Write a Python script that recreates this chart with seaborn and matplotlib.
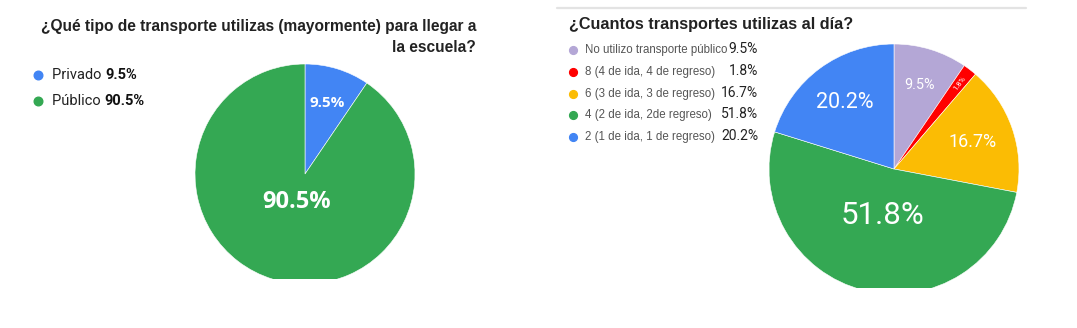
import matplotlib
matplotlib.use("Agg")
import matplotlib.pyplot as plt
import seaborn as sns
import numpy as np

sns.set_theme(style="white")
plt.rcParams['font.family'] = ['Liberation Sans', 'DejaVu Sans']

# ---------------- data ----------------
left_title = "¿Qué tipo de transporte utilizas (mayormente) para llegar a\nla escuela?"
left_categories = ["Privado", "Público"]
left_values = [9.5, 90.5]
left_colors = ["#4285F4", "#34A853"]

right_title = "¿Cuantos transportes utilizas al día?"
right_categories = ["No utilizo transporte público",
                    "8 (4 de ida, 4 de regreso)",
                    "6 (3 de ida, 3 de regreso)",
                    "4 (2 de ida, 2de regreso)",
                    "2 (1 de ida, 1 de regreso)"]
right_values = [9.5, 1.8, 16.7, 51.8, 20.2]
right_colors = ["#B4A7D6", "#FF0000", "#FBBC04", "#34A853", "#4285F4"]

W, H = 1077, 328
fig = plt.figure(figsize=(W / 100, H / 100), dpi=100)
fig.patch.set_facecolor("white")


def fx(x):
    return x / W


def fy(y):
    return 1 - y / H


def pie_axes(cx, cy, r, bottom_cut):
    left = cx - r
    ax = fig.add_axes([fx(left), fy(bottom_cut), 2 * r / W, (bottom_cut - (cy - r)) / H])
    return ax


def fmt(v):
    return f"{v:.1f}%"


def dot(x, y, color, size):
    fig.add_artist(plt.Line2D([fx(x)], [fy(y)], transform=fig.transFigure, marker="o",
                              markersize=size, markerfacecolor=color, markeredgecolor=color,
                              linestyle="none"))


# ---------------- left pie ----------------
axL = pie_axes(305, 174, 110, 279)
wedges, _ = axL.pie(left_values, colors=left_colors, startangle=90, counterclock=False,
                    radius=1, wedgeprops=dict(edgecolor="white", linewidth=0.4))
axL.set_aspect("auto")
axL.set_xlim(-1, 1)
axL.set_ylim(-(279 - 174) / 110, 1)
axL.axis("off")
for w in wedges:
    w.set_clip_on(True)
    w.set_clip_path(axL.patch)
left_dist = [0.68, 0.27]
left_sizes = [11, 17]
for w, v, d, s in zip(wedges, left_values, left_dist, left_sizes):
    mid = np.deg2rad((w.theta1 + w.theta2) / 2)
    axL.text(d * np.cos(mid), d * np.sin(mid), fmt(v), color="white", fontsize=s,
             fontweight="bold", family=["Open Sans", "DejaVu Sans"], ha="center", va="center")

fig.text(fx(476), fy(36.5), left_title, ha="right", va="center", fontsize=11.2,
         fontweight="bold", color="#222222", linespacing=1.5)

# left legend
for i, (cat, v, c) in enumerate(zip(left_categories, left_values, left_colors)):
    y = 75 + i * 26
    dot(38, y, c, 6.2)
    t = fig.text(fx(52), fy(y), cat + " ", ha="left", va="center", fontsize=10.5,
                 family=["Roboto", "DejaVu Sans"], color="#222222")
    fig.add_artist(matplotlib.text.Annotation(
        fmt(v), xy=(1, 0.5), xycoords=t, ha="left", va="center", fontsize=10.5,
        fontweight="bold", family=["Roboto", "DejaVu Sans"], color="#111111",
        annotation_clip=False))

# ---------------- right panel ----------------
fig.add_artist(plt.Line2D([fx(557), fx(1026)], [fy(8), fy(8)], transform=fig.transFigure,
                          color="#e3e3e3", linewidth=1.6))

fig.text(fx(569), fy(24), right_title, ha="left", va="center", fontsize=11.7,
         fontweight="bold", color="#222222")

axR = pie_axes(894, 169, 125, 288)
wedgesR, _ = axR.pie(right_values, colors=right_colors, startangle=90, counterclock=False,
                     radius=1, wedgeprops=dict(edgecolor="white", linewidth=0.4))
axR.set_aspect("auto")
axR.set_xlim(-1, 1)
axR.set_ylim(-(288 - 169) / 125, 1)
axR.axis("off")
for w in wedgesR:
    w.set_clip_on(True)
    w.set_clip_path(axR.patch)
right_dist = [0.70, 0.86, 0.665, 0.38, 0.66]
right_sizes = [10.4, 5.5, 13, 22.5, 15.5]
for i, (w, v, d, s) in enumerate(zip(wedgesR, right_values, right_dist, right_sizes)):
    mid_deg = (w.theta1 + w.theta2) / 2
    mid = np.deg2rad(mid_deg)
    rot = mid_deg if v < 5 else 0
    axR.text(d * np.cos(mid), d * np.sin(mid), fmt(v), color="white", fontsize=s,
             family=["Roboto", "DejaVu Sans"], ha="center", va="center", rotation=rot,
             rotation_mode="anchor")

# right legend
for i, (cat, v, c) in enumerate(zip(right_categories, right_values, right_colors)):
    y = 50 + i * 21.8
    dot(573, y, c, 5.6)
    fig.text(fx(585), fy(y), cat, ha="left", va="center", fontsize=8.3, color="#555555")
    fig.text(fx(758), fy(y - 1), fmt(v), ha="right", va="center", fontsize=10,
             family=["Roboto", "DejaVu Sans"], color="#222222")

fig.savefig("out.png", dpi=100, facecolor="white")
